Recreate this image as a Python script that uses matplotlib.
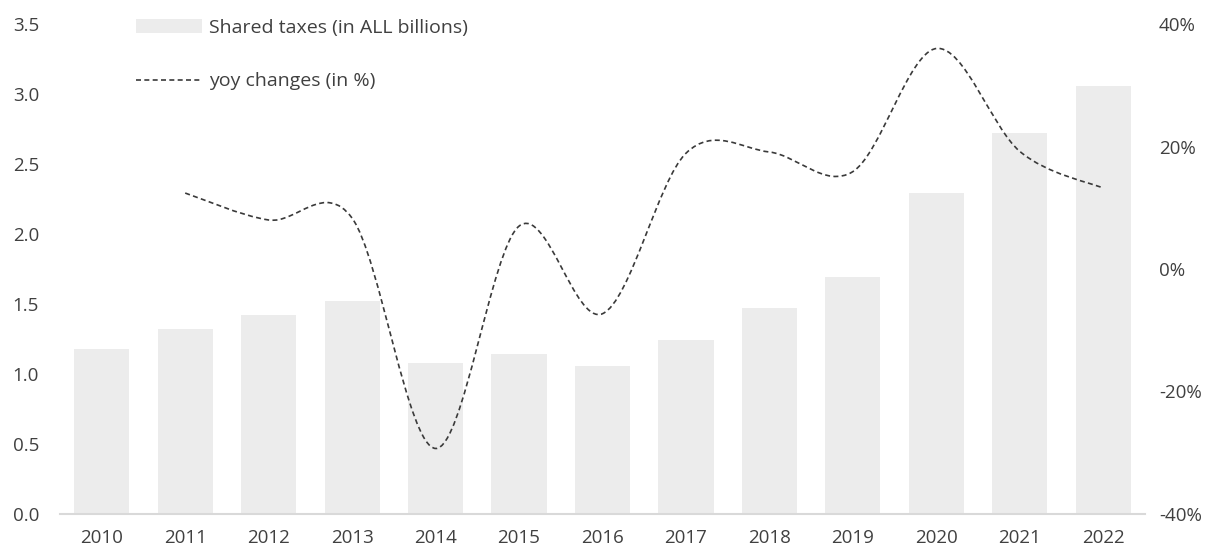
"""
Shared taxes (ALL billions) with year-on-year change, smoothed line on a
secondary axis.  Writes out.png.
"""
import matplotlib
matplotlib.use("Agg")
import matplotlib.pyplot as plt
import numpy as np
from matplotlib.path import Path
from matplotlib.patches import PathPatch, Patch
from matplotlib.lines import Line2D

plt.rcParams["font.family"] = ["Open Sans", "DejaVu Sans"]

TEXT = "#404040"
BAR = "#ececec"
LINE = "#3a3a3a"
AXIS = "#d9d9d9"

years = ["2010", "2011", "2012", "2013", "2014", "2015", "2016",
         "2017", "2018", "2019", "2020", "2021", "2022"]
shared_taxes = [1.18, 1.32, 1.42, 1.52, 1.08, 1.14, 1.06,
                1.24, 1.47, 1.69, 2.29, 2.72, 3.06]
# yoy change in %, no value for the first year
yoy_years = years[1:]
yoy_change = [12.4, 8.0, 8.3, -29.3, 7.0, -7.3,
              18.9, 19.1, 15.9, 36.0, 19.2, 13.2]

left_ticks = [0.0, 0.5, 1.0, 1.5, 2.0, 2.5, 3.0, 3.5]
right_ticks = [-40, -20, 0, 20, 40]


def smooth_path(xs, ys):
    # Excel-like smoothed line: Catmull-Rom spline as cubic Bezier pieces
    pts = np.column_stack([xs, ys]).astype(float)
    n = len(pts)
    verts = [pts[0]]
    codes = [Path.MOVETO]
    for i in range(n - 1):
        p0 = pts[i - 1] if i > 0 else pts[i]
        p1, p2 = pts[i], pts[i + 1]
        p3 = pts[i + 2] if i + 2 < n else pts[i + 1]
        verts += [p1 + (p2 - p0) / 6, p2 - (p3 - p1) / 6, p2]
        codes += [Path.CURVE4] * 3
    return Path(verts, codes)


fig = plt.figure(figsize=(12.24, 5.59), dpi=100)
ax = fig.add_axes([60 / 1224, 1 - 514 / 559, 1085 / 1224, 490 / 559])

x = np.arange(len(years))
ax.bar(x, shared_taxes, width=0.66, color=BAR, zorder=1)
ax.set_xlim(-0.5, len(years) - 0.5)
ax.set_ylim(0, 3.5)
ax.set_yticks(left_ticks)
ax.set_yticklabels([f"{v:.1f}" for v in left_ticks])
ax.set_xticks(x)
ax.set_xticklabels(years)

ax2 = ax.twinx()
ax2.set_ylim(-40, 40)
ax2.set_yticks(right_ticks)
ax2.set_yticklabels([f"{v}%" for v in right_ticks])
xl = np.array([years.index(y) for y in yoy_years])
ax2.add_patch(PathPatch(smooth_path(xl, yoy_change), fill=False,
                        edgecolor=LINE, lw=1.2, linestyle=(0, (3, 2)),
                        zorder=3))

for a in (ax, ax2):
    for s in a.spines.values():
        s.set_visible(False)
    a.tick_params(length=0, labelsize=13.5, colors=TEXT)
ax.spines["bottom"].set_visible(True)
ax.spines["bottom"].set_color(AXIS)
ax.spines["bottom"].set_linewidth(1.5)
ax.tick_params(axis="y", pad=15)
ax.tick_params(axis="x", pad=11)
ax2.tick_params(axis="y", pad=10)

handles = [Patch(facecolor=BAR, edgecolor="none"),
           Line2D([], [], color=LINE, lw=1.2, linestyle=(0, (3, 2)))]
labels = ["Shared taxes (in ALL billions)", "yoy changes (in %)"]
fig.legend(handles, labels, loc="upper left",
           bbox_to_anchor=(118 / 1224, 1 - 1 / 559), frameon=False,
           fontsize=14, labelcolor=TEXT, handlelength=3.4,
           handleheight=0.7, handletextpad=0.4, labelspacing=1.85)

fig.savefig("out.png", dpi=100)
